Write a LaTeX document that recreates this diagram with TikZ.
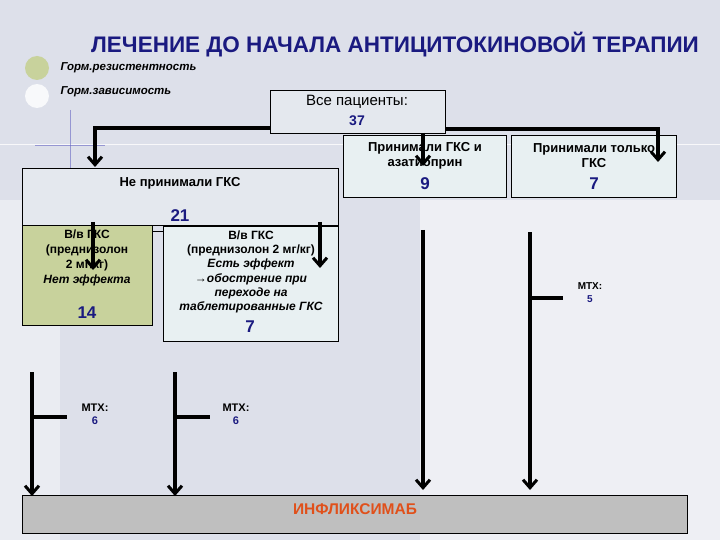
\documentclass[tikz,border=0pt]{standalone}
\usepackage{fontspec}
\setmainfont{Liberation Sans}
\usetikzlibrary{arrows.meta}
\definecolor{bg}{HTML}{DDE0EA}
\definecolor{boxbg}{HTML}{E4E8EE}
\definecolor{lightbox}{HTML}{E8F0F2}
\definecolor{greenbox}{HTML}{C8D29C}
\definecolor{navy}{HTML}{1A1A80}
\definecolor{infl}{HTML}{E0501A}
\tikzset{
  bx/.style={draw=black, line width=0.8pt, inner sep=0pt},
  conn/.style={line width=3.6pt},
  arr/.style={conn, -{Straight Barb[length=8pt,width=14pt,line width=3pt]}},
  lab/.style={font=\bfseries\fontsize{13}{15}\selectfont, align=center},
  num/.style={font=\bfseries\fontsize{17}{19}\selectfont, text=navy},
  mtx/.style={font=\bfseries\fontsize{11}{13}\selectfont, align=center},
}
\begin{document}
\begin{tikzpicture}[x=1pt,y=-1pt]
\useasboundingbox (0,0) rectangle (720,540);
\fill[bg] (0,0) rectangle (720,540);
\fill[white, opacity=0.5] (420,200) rectangle (720,540);
\fill[white, opacity=0.4] (0,200) rectangle (60,540);
% decorative
\draw[white, line width=1pt, opacity=0.8] (0,145) -- (720,145);
\draw[blue!60!black!60, line width=0.6pt, opacity=0.6] (35,145) -- (105,145);
\draw[blue!60!black!60, line width=0.6pt, opacity=0.6] (70,110) -- (70,170);
% title
\node[font=\bfseries\fontsize{22.5}{26}\selectfont, text=navy] (title) at (395,45) {ЛЕЧЕНИЕ ДО НАЧАЛА АНТИЦИТОКИНОВОЙ ТЕРАПИИ};
\fill[greenbox] (37,68) circle (12);
\fill[white!80!bg] (37,96) circle (12);
\node[anchor=west, font=\bfseries\itshape\fontsize{11.5}{13}\selectfont] (leg1) at (57,68) {Горм.резистентность};
\node[anchor=west, font=\bfseries\itshape\fontsize{11.5}{13}\selectfont] (leg2) at (57,92) {Горм.зависимость};
% boxes
\draw[bx, fill=boxbg] (270,90) rectangle (445,133);
\node[font=\fontsize{15}{17}\selectfont] (allt) at (357,102) {Все пациенты:};
\node[num, font=\bfseries\fontsize{14}{16}\selectfont] (alln) at (357,121) {37};
\draw[bx, fill=boxbg] (22,168) rectangle (338,225);
\node[lab] (no) at (180,183) {Не принимали ГКС};
\node[num] (non) at (180,216) {21};
\draw[bx, fill=lightbox] (343,135) rectangle (506,197);
\node[lab] (aza) at (425,156) {Принимали ГКС и\\азатиоприн};
\node[num] (azan) at (425,184) {9};
\draw[bx, fill=lightbox] (511,135) rectangle (676,197);
\node[lab] (only) at (594,156) {Принимали только\\ГКС};
\node[num] (onlyn) at (594,184) {7};
\draw[bx, fill=greenbox] (22,225) rectangle (152,325);
\node[lab, font=\bfseries\fontsize{12}{14.8}\selectfont] (ne) at (87,258) {В/в ГКС\\(преднизолон\\2 мг/кг)\\\textit{Нет эффекта}};
\node[num] (nen) at (87,313) {14};
\draw[bx, fill=lightbox] (163,226) rectangle (338,341);
\node[lab, font=\bfseries\fontsize{12}{14.3}\selectfont] (est) at (251,272) {В/в ГКС\\(преднизолон 2 мг/кг)\\\textit{Есть эффект}\\\textit{→обострение при}\\\textit{переходе на}\\\textit{таблетированные ГКС}};
\node[num] (estn) at (250,327) {7};
\draw[line width=0.8pt] (152,231) -- (163,231);
\draw[bx, fill=black!25] (22,495) rectangle (687,533);
\node[font=\bfseries\fontsize{15.5}{18}\selectfont, text=infl] (inf) at (355,509) {ИНФЛИКСИМАБ};
% connectors
\coordinate (a1) at (95,167);
\draw[arr] (270,128) -| (a1);
\coordinate (a2) at (658,162);
\draw[arr] (445,129) -| (a2);
\draw[arr] (423,133) -- (423,166);
\draw[arr] (93,222) -- (93,270);
\draw[arr] (320,222) -- (320,268);
\draw[arr] (32,372) -- (32,496);
\draw[conn] (32,417) -- (67,417);
\node[mtx] (m1) at (95,414) {MTX:\\\textcolor{navy}{6}};
\draw[arr] (175,372) -- (175,496);
\draw[conn] (175,417) -- (210,417);
\node[mtx] (m2) at (236,414) {MTX:\\\textcolor{navy}{6}};
\draw[arr] (423,230) -- (423,490);
\draw[arr] (530,232) -- (530,490);
\draw[conn] (530,298) -- (563,298);
\node[mtx, font=\bfseries\fontsize{10}{13}\selectfont] (m3) at (590,293) {MTX:\\\textcolor{navy}{5}};
\end{tikzpicture}
\end{document}
